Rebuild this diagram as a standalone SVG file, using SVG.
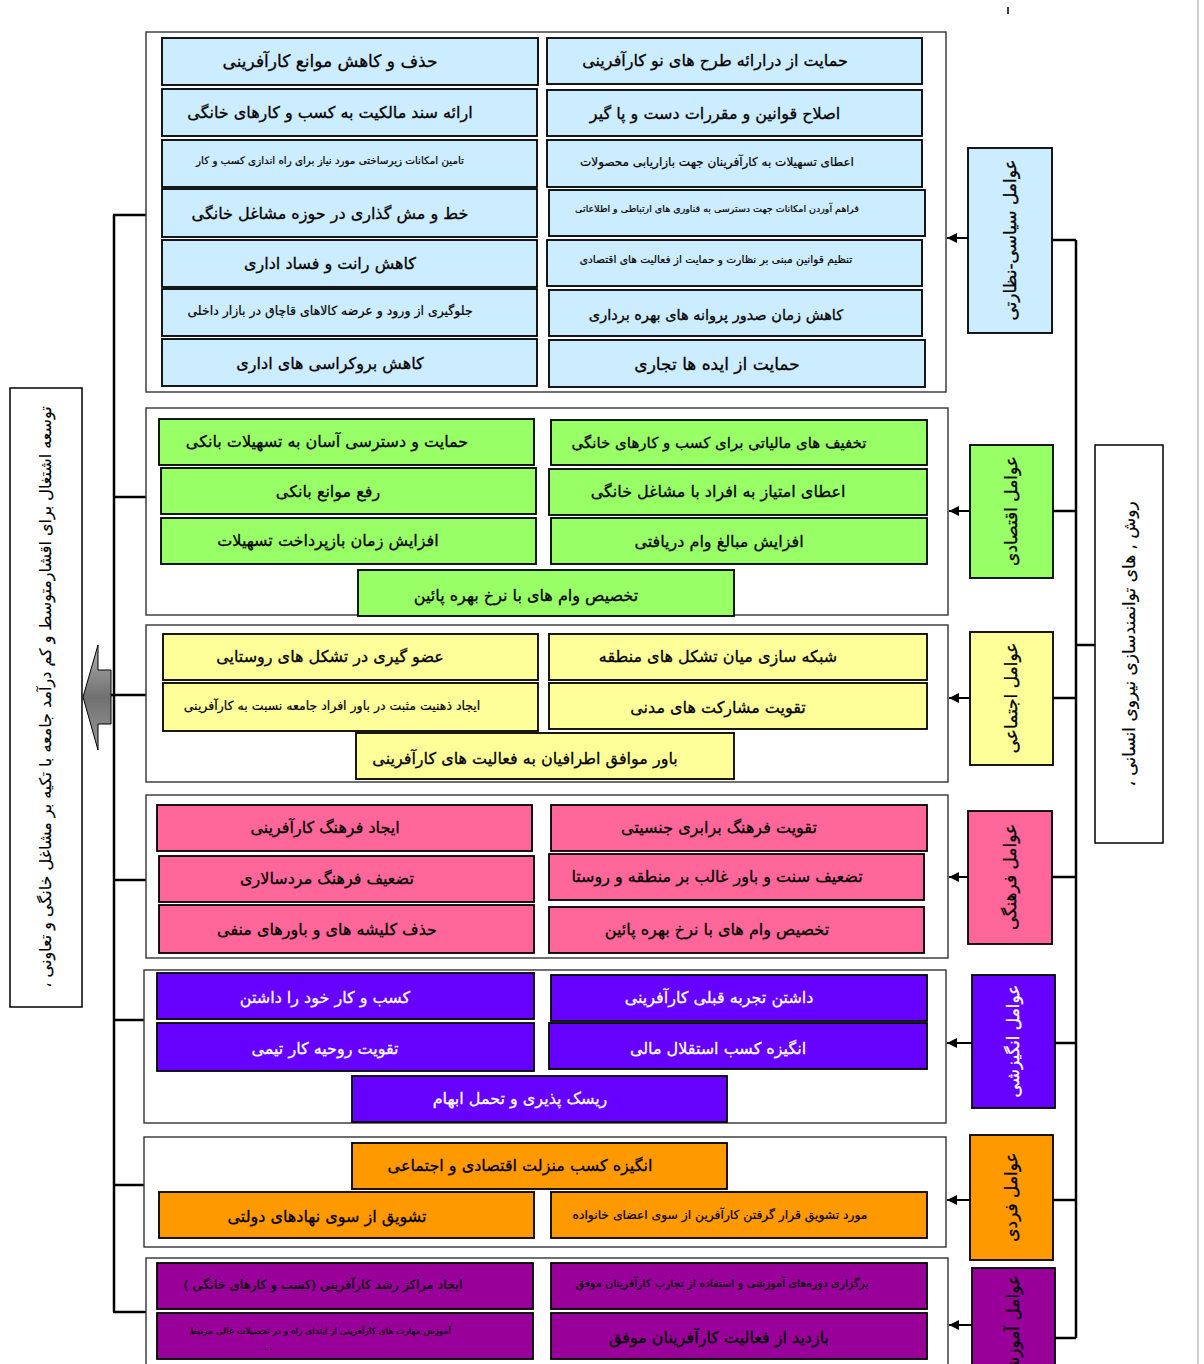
<svg xmlns="http://www.w3.org/2000/svg" width="1204" height="1364" viewBox="0 0 1204 1364">
<style>
.bg{fill:#fff}
.ct{fill:#fff;stroke:#333;stroke-width:1.4}
.bx{stroke:#000;stroke-width:1.8}
.pol{fill:#CCECFF}.eco{fill:#99FF66}.soc{fill:#FFFF99}.cul{fill:#FF6699}.mot{fill:#6600FF}.ind{fill:#FF9900}.edu{fill:#990099}
.t{font-family:"DejaVu Sans",sans-serif;font-size:16px;text-anchor:middle;direction:rtl;fill:#000;stroke:#000;stroke-width:0.3}
.lb{font-size:17px}
.big{font-size:16px;stroke-width:0.15}
.w{fill:#fff;stroke:#fff}
.ln{stroke:#000;stroke-width:2.5;fill:none}
.ar{stroke:#000;stroke-width:2;fill:none}
</style>
<defs>
<marker id="ah" viewBox="0 0 10 10" refX="10" refY="5" markerWidth="11" markerHeight="10" markerUnits="userSpaceOnUse" orient="auto"><path d="M0,0 L10,5 L0,10 z" fill="#000"/></marker>
<linearGradient id="gr" x1="0" y1="0" x2="0" y2="1"><stop offset="0" stop-color="#b0b0b0"/><stop offset="0.5" stop-color="#707070"/><stop offset="1" stop-color="#9a9a9a"/></linearGradient>
</defs>
<rect class="bg" x="0" y="0" width="1204" height="1364"/>
<line x1="1198" y1="0" x2="1198" y2="1364" stroke="#cfcfcf" stroke-width="2"/>
<line x1="1008" y1="7" x2="1008" y2="14" stroke="#000" stroke-width="1.5"/>

<g id="connectors">
<line class="ln" x1="1076" y1="240" x2="1076" y2="1338"/>
<line class="ln" x1="1052" y1="240" x2="1076" y2="240"/>
<line class="ln" x1="1053" y1="511" x2="1076" y2="511"/>
<line class="ln" x1="1053" y1="698" x2="1076" y2="698"/>
<line class="ln" x1="1052" y1="877" x2="1076" y2="877"/>
<line class="ln" x1="1055" y1="1043" x2="1076" y2="1043"/>
<line class="ln" x1="1053" y1="1200" x2="1076" y2="1200"/>
<line class="ln" x1="1055" y1="1338" x2="1076" y2="1338"/>
<line class="ln" x1="1076" y1="645" x2="1095" y2="645"/>
<line class="ar" x1="968" y1="238" x2="947" y2="238" marker-end="url(#ah)"/>
<line class="ar" x1="970" y1="511" x2="949" y2="511" marker-end="url(#ah)"/>
<line class="ar" x1="970" y1="698" x2="949" y2="698" marker-end="url(#ah)"/>
<line class="ar" x1="968" y1="877" x2="949" y2="877" marker-end="url(#ah)"/>
<line class="ar" x1="972" y1="1043" x2="947" y2="1043" marker-end="url(#ah)"/>
<line class="ar" x1="970" y1="1200" x2="947" y2="1200" marker-end="url(#ah)"/>
<line class="ar" x1="972" y1="1325" x2="949" y2="1325" marker-end="url(#ah)"/>
<line class="ln" x1="114" y1="215" x2="114" y2="1312"/>
<line class="ln" x1="113" y1="215" x2="146" y2="215"/>
<line class="ln" x1="114" y1="497" x2="146" y2="497"/>
<line class="ln" x1="111" y1="695" x2="146" y2="695"/>
<line class="ln" x1="114" y1="880" x2="146" y2="880"/>
<line class="ln" x1="114" y1="1020" x2="144" y2="1020"/>
<line class="ln" x1="114" y1="1185" x2="144" y2="1185"/>
<line class="ln" x1="113" y1="1312" x2="146" y2="1312"/>
<polygon points="83,697 98,645 98,670 111,670 111,724 98,724 98,750" fill="url(#gr)" stroke="#000" stroke-width="1"/>
</g>

<g id="goal">
<rect x="10" y="388" width="72" height="619" fill="#fff" stroke="#000" stroke-width="1.5"/>
<text class="t big" transform="translate(51,697) rotate(-90)">توسعه اشتغال برای اقشارمتوسط و کم درآمد جامعه با تکیه بر مشاغل خانگی و تعاونی ،</text>
</g>
<g id="methods">
<rect x="1095" y="445" width="68" height="398" fill="#fff" stroke="#000" stroke-width="1.5"/>
<text class="t big" transform="translate(1135,644) rotate(-90)" style="font-size:17px">روش , های توانمندسازی نیروی انسانی ،</text>
</g>

<g id="label-political"><rect class="bx pol" x="968" y="148" width="84" height="185"/><text class="t lb" transform="translate(1016,240) rotate(-90)">عوامل سیاسی-نظارتی</text></g>
<g id="label-economic"><rect class="bx eco" x="970" y="445" width="83" height="133"/><text class="t lb" transform="translate(1017,511) rotate(-90)">عوامل اقتصادی</text></g>
<g id="label-social"><rect class="bx soc" x="970" y="632" width="83" height="133"/><text class="t lb" transform="translate(1017,698) rotate(-90)">عوامل اجتماعی</text></g>
<g id="label-cultural"><rect class="bx cul" x="968" y="811" width="84" height="133"/><text class="t lb" transform="translate(1016,877) rotate(-90)">عوامل فرهنگی</text></g>
<g id="label-motivational"><rect class="bx mot" x="972" y="975" width="83" height="133"/><text class="t lb w" transform="translate(1019,1041) rotate(-90)">عوامل انگیزشی</text></g>
<g id="label-individual"><rect class="bx ind" x="970" y="1135" width="83" height="125"/><text class="t lb" transform="translate(1017,1197) rotate(-90)">عوامل فردی</text></g>
<g id="label-educational"><rect class="bx edu" x="972" y="1268" width="83" height="133"/><text class="t lb" transform="translate(1019,1330) rotate(-90)">عوامل آموزشی</text></g>

<g id="group-political">
<rect class="ct" x="146" y="32" width="800" height="360"/>
<g id="p-l1"><rect class="bx pol" x="162" y="38" width="376" height="47"/><text class="t" x="330" y="67" style="font-size:17px">حذف و کاهش موانع کارآفرینی</text></g>
<g id="p-r1"><rect class="bx pol" x="547" y="38" width="375" height="46"/><text class="t" x="715" y="66">حمایت از درارائه طرح های نو کارآفرینی</text></g>
<g id="p-l2"><rect class="bx pol" x="162" y="89" width="375" height="47"/><text class="t" x="330" y="118">ارائه سند مالکیت به کسب و کارهای خانگی</text></g>
<g id="p-r2"><rect class="bx pol" x="547" y="90" width="375" height="46"/><text class="t" x="715" y="119">اصلاح قوانین و مقررات دست و پا گیر</text></g>
<g id="p-l3"><rect class="bx pol" x="162" y="140" width="375" height="47"/><text class="t" x="330" y="164" style="font-size:10.3px;stroke-width:0.2">تامین امکانات زیرساختی مورد نیاز برای راه اندازی کسب و کار</text></g>
<g id="p-r3"><rect class="bx pol" x="547" y="140" width="375" height="47"/><text class="t" x="717" y="166" style="font-size:12px;stroke-width:0.2">اعطای تسهیلات به کارآفرینان جهت بازاریابی محصولات</text></g>
<g id="p-l4"><rect class="bx pol" x="162" y="189" width="375" height="48"/><text class="t" x="330" y="219">خط و مش گذاری در حوزه مشاغل خانگی</text></g>
<g id="p-r4"><rect class="bx pol" x="549" y="190" width="376" height="46"/><text class="t" x="717" y="212" style="font-size:9.5px;stroke-width:0.2">فراهم آوردن امکانات جهت دسترسی به فناوری های ارتباطی و اطلاعاتی</text></g>
<g id="p-l5"><rect class="bx pol" x="162" y="240" width="375" height="47"/><text class="t" x="330" y="269">کاهش رانت و فساد اداری</text></g>
<g id="p-r5"><rect class="bx pol" x="547" y="240" width="375" height="46"/><text class="t" x="716" y="263" style="font-size:10.6px;stroke-width:0.2">تنظیم قوانین مبنی بر نظارت و حمایت از فعالیت های اقتصادی</text></g>
<g id="p-l6"><rect class="bx pol" x="162" y="289" width="375" height="47"/><text class="t" x="330" y="315" style="font-size:12.5px;stroke-width:0.2">جلوگیری از ورود و عرضه کالاهای قاچاق در بازار داخلی</text></g>
<g id="p-r6"><rect class="bx pol" x="549" y="290" width="373" height="46"/><text class="t" x="716" y="320" style="font-size:14.5px">کاهش زمان صدور پروانه های بهره برداری</text></g>
<g id="p-l7"><rect class="bx pol" x="162" y="339" width="375" height="47"/><text class="t" x="330" y="369">کاهش بروکراسی های اداری</text></g>
<g id="p-r7"><rect class="bx pol" x="549" y="340" width="376" height="47"/><text class="t" x="717" y="370" style="font-size:17px">حمایت از ایده ها تجاری</text></g>
</g>

<g id="group-economic">
<rect class="ct" x="146" y="408" width="802" height="207"/>
<g id="e-r1"><rect class="bx eco" x="551" y="420" width="376" height="45"/><text class="t" x="719" y="448" style="font-size:15px">تخفیف های مالیاتی برای کسب و کارهای خانگی</text></g>
<g id="e-l1"><rect class="bx eco" x="159" y="419" width="375" height="46"/><text class="t" x="327" y="447">حمایت و دسترسی آسان به تسهیلات بانکی</text></g>
<g id="e-r2"><rect class="bx eco" x="549" y="469" width="378" height="46"/><text class="t" x="718" y="497">اعطای امتیاز به افراد با مشاغل خانگی</text></g>
<g id="e-l2"><rect class="bx eco" x="161" y="468" width="375" height="46"/><text class="t" x="328" y="497">رفع موانع بانکی</text></g>
<g id="e-r3"><rect class="bx eco" x="551" y="518" width="376" height="46"/><text class="t" x="719" y="547">افزایش مبالغ وام دریافتی</text></g>
<g id="e-l3"><rect class="bx eco" x="161" y="518" width="375" height="46"/><text class="t" x="328" y="546">افزایش زمان بازپرداخت تسهیلات</text></g>
<g id="e-c"><rect class="bx eco" x="358" y="570" width="376" height="46"/><text class="t" x="526" y="601">تخصیص وام های با نرخ بهره پائین</text></g>
</g>

<g id="group-social">
<rect class="ct" x="146" y="625" width="802" height="157"/>
<g id="s-r1"><rect class="bx soc" x="549" y="634" width="378" height="46"/><text class="t" x="718" y="662">شبکه سازی میان تشکل های منطقه</text></g>
<g id="s-l1"><rect class="bx soc" x="163" y="634" width="375" height="46"/><text class="t" x="330" y="662">عضو گیری در تشکل های روستایی</text></g>
<g id="s-r2"><rect class="bx soc" x="549" y="683" width="378" height="46"/><text class="t" x="718" y="713">تقویت مشارکت های مدنی</text></g>
<g id="s-l2"><rect class="bx soc" x="163" y="683" width="375" height="48"/><text class="t" x="332" y="710" style="font-size:12.5px;stroke-width:0.2">ایجاد ذهنیت مثبت در باور افراد جامعه نسبت به کارآفرینی</text></g>
<g id="s-c"><rect class="bx soc" x="356" y="733" width="378" height="46"/><text class="t" x="525" y="764">باور موافق اطرافیان به فعالیت های کارآفرینی</text></g>
</g>

<g id="group-cultural">
<rect class="ct" x="146" y="795" width="802" height="163"/>
<g id="c-r1"><rect class="bx cul" x="551" y="805" width="376" height="46"/><text class="t" x="719" y="833">تقویت فرهنگ برابری جنسیتی</text></g>
<g id="c-l1"><rect class="bx cul" x="157" y="805" width="375" height="46"/><text class="t" x="325" y="833">ایجاد فرهنگ کارآفرینی</text></g>
<g id="c-r2"><rect class="bx cul" x="549" y="854" width="375" height="46"/><text class="t" x="717" y="882">تضعیف سنت و باور غالب بر منطقه و روستا</text></g>
<g id="c-l2"><rect class="bx cul" x="159" y="856" width="375" height="46"/><text class="t" x="327" y="884">تضعیف فرهنگ مردسالاری</text></g>
<g id="c-r3"><rect class="bx cul" x="549" y="907" width="375" height="46"/><text class="t" x="717" y="935">تخصیص وام های با نرخ بهره پائین</text></g>
<g id="c-l3"><rect class="bx cul" x="159" y="905" width="375" height="48"/><text class="t" x="327" y="935">حذف کلیشه های و باورهای منفی</text></g>
</g>

<g id="group-motivational">
<rect class="ct" x="144" y="970" width="802" height="153"/>
<g id="m-r1"><rect class="bx mot" x="551" y="975" width="376" height="46"/><text class="t w" x="719" y="1003">داشتن تجربه قبلی کارآفرینی</text></g>
<g id="m-l1"><rect class="bx mot" x="157" y="973" width="377" height="46"/><text class="t w" x="325" y="1003">کسب و کار خود را داشتن</text></g>
<g id="m-r2"><rect class="bx mot" x="549" y="1023" width="378" height="46"/><text class="t w" x="718" y="1054">انگیزه کسب استقلال مالی</text></g>
<g id="m-l2"><rect class="bx mot" x="157" y="1023" width="377" height="48"/><text class="t w" x="325" y="1054">تقویت روحیه کار تیمی</text></g>
<g id="m-c"><rect class="bx mot" x="352" y="1076" width="375" height="46"/><text class="t w" x="520" y="1104">ریسک پذیری و تحمل ابهام</text></g>
</g>

<g id="group-individual">
<rect class="ct" x="144" y="1137" width="802" height="110"/>
<g id="i-c"><rect class="bx ind" x="352" y="1143" width="375" height="46"/><text class="t" x="520" y="1171">انگیزه کسب منزلت اقتصادی و اجتماعی</text></g>
<g id="i-r"><rect class="bx ind" x="551" y="1192" width="376" height="46"/><text class="t" x="720" y="1219" style="font-size:12.3px;stroke-width:0.2">مورد تشویق قرار گرفتن کارآفرین از سوی اعضای خانواده</text></g>
<g id="i-l"><rect class="bx ind" x="159" y="1192" width="375" height="46"/><text class="t" x="327" y="1222">تشویق از سوی نهادهای دولتی</text></g>
</g>

<g id="group-educational">
<rect class="ct" x="146" y="1258" width="802" height="115"/>
<g id="d-r1"><rect class="bx edu" x="551" y="1263" width="376" height="46"/><text class="t" x="722" y="1287" style="font-size:11px;stroke-width:0.2">برگزاری دوره‌های آموزشی و استفاده از تجارب کارآفرینان موفق</text></g>
<g id="d-l1"><rect class="bx edu" x="157" y="1263" width="376" height="46"/><text class="t" x="323" y="1289" style="font-size:12.8px;stroke-width:0.2">ایجاد مراکز رشد کارآفرینی (کسب و کارهای خانگی )</text></g>
<g id="d-r2"><rect class="bx edu" x="551" y="1313" width="376" height="46"/><text class="t" x="719" y="1343">بازدید از فعالیت کارآفرینان موفق</text></g>
<g id="d-l2"><rect class="bx edu" x="157" y="1313" width="376" height="46"/><text class="t" x="320" y="1334" style="font-size:9px;stroke-width:0.2">آموزش مهارت های کارآفرینی از ابتدای راه و در تحصیلات عالی مرتبط</text><text class="t" x="268" y="1350" style="font-size:9px;stroke-width:0.2">. .</text></g>
</g>
</svg>
